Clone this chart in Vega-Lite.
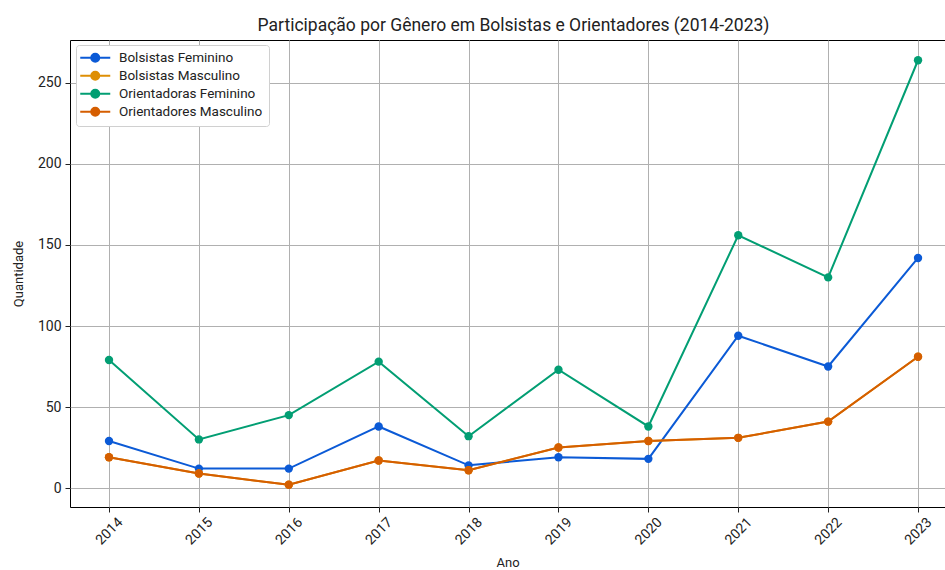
{
  "$schema": "https://vega.github.io/schema/vega-lite/v6.json",
  "autosize": "none",
  "width": 875,
  "height": 467,
  "padding": {"left": 70, "top": 40, "right": 0, "bottom": 63},
  "background": "white",
  "title": {"text": "Participação por Gênero em Bolsistas e Orientadores (2014-2023)", "font": "Roboto", "fontSize": 17.5, "fontWeight": "normal", "color": "#222", "offset": 6, "anchor": "middle", "dx": 6},
  "config": {
    "font": "Roboto",
    "view": {"stroke": "black", "strokeWidth": 1}
  },
  "data": {"values": [
    {"ano": 2014, "serie": "Bolsistas Feminino", "valor": 29},
    {"ano": 2015, "serie": "Bolsistas Feminino", "valor": 12},
    {"ano": 2016, "serie": "Bolsistas Feminino", "valor": 12},
    {"ano": 2017, "serie": "Bolsistas Feminino", "valor": 38},
    {"ano": 2018, "serie": "Bolsistas Feminino", "valor": 14},
    {"ano": 2019, "serie": "Bolsistas Feminino", "valor": 19},
    {"ano": 2020, "serie": "Bolsistas Feminino", "valor": 18},
    {"ano": 2021, "serie": "Bolsistas Feminino", "valor": 94},
    {"ano": 2022, "serie": "Bolsistas Feminino", "valor": 75},
    {"ano": 2023, "serie": "Bolsistas Feminino", "valor": 142},
    {"ano": 2014, "serie": "Bolsistas Masculino", "valor": 19},
    {"ano": 2015, "serie": "Bolsistas Masculino", "valor": 9},
    {"ano": 2016, "serie": "Bolsistas Masculino", "valor": 2},
    {"ano": 2017, "serie": "Bolsistas Masculino", "valor": 17},
    {"ano": 2018, "serie": "Bolsistas Masculino", "valor": 11},
    {"ano": 2019, "serie": "Bolsistas Masculino", "valor": 25},
    {"ano": 2020, "serie": "Bolsistas Masculino", "valor": 29},
    {"ano": 2021, "serie": "Bolsistas Masculino", "valor": 31},
    {"ano": 2022, "serie": "Bolsistas Masculino", "valor": 41},
    {"ano": 2023, "serie": "Bolsistas Masculino", "valor": 81},
    {"ano": 2014, "serie": "Orientadoras Feminino", "valor": 79},
    {"ano": 2015, "serie": "Orientadoras Feminino", "valor": 30},
    {"ano": 2016, "serie": "Orientadoras Feminino", "valor": 45},
    {"ano": 2017, "serie": "Orientadoras Feminino", "valor": 78},
    {"ano": 2018, "serie": "Orientadoras Feminino", "valor": 32},
    {"ano": 2019, "serie": "Orientadoras Feminino", "valor": 73},
    {"ano": 2020, "serie": "Orientadoras Feminino", "valor": 38},
    {"ano": 2021, "serie": "Orientadoras Feminino", "valor": 156},
    {"ano": 2022, "serie": "Orientadoras Feminino", "valor": 130},
    {"ano": 2023, "serie": "Orientadoras Feminino", "valor": 264},
    {"ano": 2014, "serie": "Orientadores Masculino", "valor": 19},
    {"ano": 2015, "serie": "Orientadores Masculino", "valor": 9},
    {"ano": 2016, "serie": "Orientadores Masculino", "valor": 2},
    {"ano": 2017, "serie": "Orientadores Masculino", "valor": 17},
    {"ano": 2018, "serie": "Orientadores Masculino", "valor": 11},
    {"ano": 2019, "serie": "Orientadores Masculino", "valor": 25},
    {"ano": 2020, "serie": "Orientadores Masculino", "valor": 29},
    {"ano": 2021, "serie": "Orientadores Masculino", "valor": 31},
    {"ano": 2022, "serie": "Orientadores Masculino", "valor": 41},
    {"ano": 2023, "serie": "Orientadores Masculino", "valor": 81}
  ]},
  "encoding": {
    "x": {"field": "ano", "type": "quantitative",
      "scale": {"domain": [2013.566, 2023.3], "nice": false, "zero": false},
      "axis": {"title": "Ano", "values": [2014,2015,2016,2017,2018,2019,2020,2021,2022,2023], "format": "d",
        "labelAngle": -45, "labelAlign": "center", "labelBaseline": "middle", "labelPadding": 19,
        "labelFontSize": 14, "labelColor": "#222", "titleFontSize": 13, "titleFontWeight": "normal", "titleColor": "#222", "titlePadding": 9,
        "grid": true, "gridColor": "#b0b0b0", "gridWidth": 1, "domain": false, "tickColor": "#222", "tickSize": 5, "labelFlush": false}},
    "y": {"field": "valor", "type": "quantitative",
      "scale": {"domain": [-11.7, 276.5], "nice": false, "zero": false},
      "axis": {"title": "Quantidade", "values": [0,50,100,150,200,250],
        "labelFontSize": 14, "labelColor": "#222", "titleFontSize": 13, "titleFontWeight": "normal", "titleColor": "#222", "titlePadding": 12,
        "grid": true, "gridColor": "#b0b0b0", "gridWidth": 1, "domain": false, "tickColor": "#222", "tickSize": 5, "labelPadding": 4}},
    "color": {"field": "serie", "type": "nominal",
      "scale": {"domain": ["Bolsistas Feminino", "Bolsistas Masculino", "Orientadoras Feminino", "Orientadores Masculino"],
        "range": ["#0b5ad6", "#de8f05", "#029e73", "#d55e00"]},
      "legend": {"title": null, "orient": "none", "legendX": 6, "legendY": 5,
        "symbolType": "M-3,0H3M-0.8,0A0.8,0.8 0 1,1 0.8,0A0.8,0.8 0 1,1 -0.8,0",
        "symbolSize": 100, "symbolStrokeWidth": 2, "symbolOffset": 6.5, "labelFontSize": 13.5, "labelColor": "#222",
        "rowPadding": 1, "padding": 6, "strokeColor": "#d0d0d0", "fillColor": "white", "cornerRadius": 3, "labelOffset": 17}}
  },
  "layer": [
    {"mark": {"type": "line", "strokeWidth": 2}},
    {"mark": {"type": "circle", "size": 70, "opacity": 1}}
  ]
}
